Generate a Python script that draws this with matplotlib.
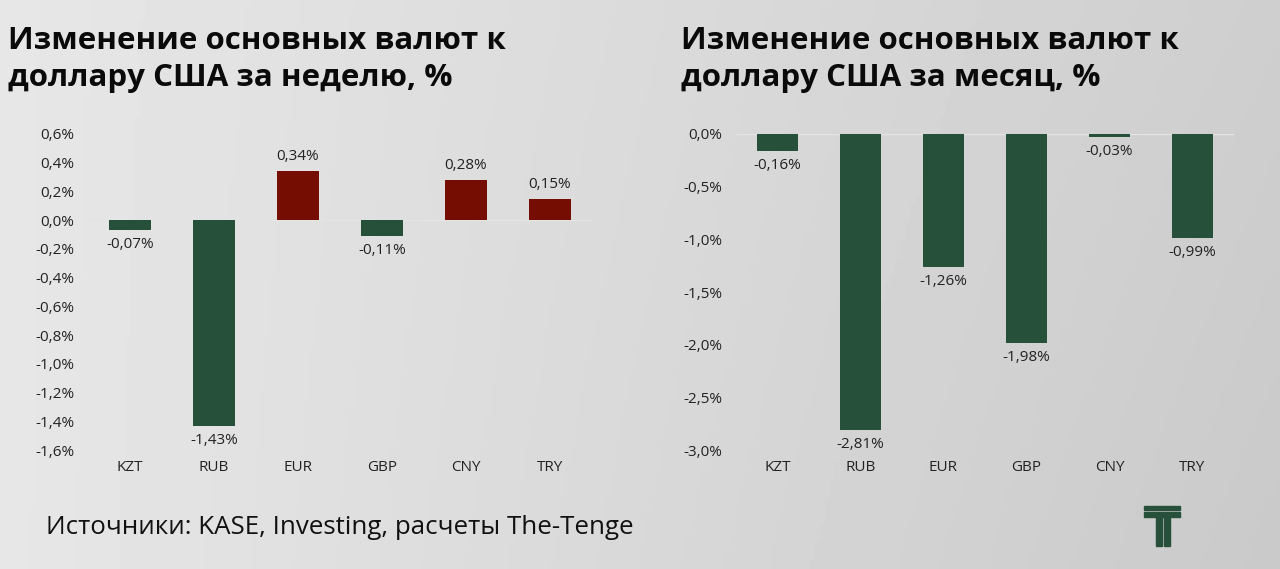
import numpy as np
import matplotlib.pyplot as plt
from matplotlib.patches import Rectangle

plt.rcParams['font.family'] = ['Open Sans', 'DejaVu Sans']

currencies = ['KZT', 'RUB', 'EUR', 'GBP', 'CNY', 'TRY']
week_change = [-0.07, -1.43, 0.34, -0.11, 0.28, 0.15]
month_change = [-0.16, -2.81, -1.26, -1.98, -0.03, -0.99]
week_ticks = [0.6, 0.4, 0.2, 0.0, -0.2, -0.4, -0.6, -0.8, -1.0, -1.2, -1.4, -1.6]
month_ticks = [0.0, -0.5, -1.0, -1.5, -2.0, -2.5, -3.0]

green = '#27503a'
red = '#760d03'


def fmt(v, nd):
    return f'{v:.{nd}f}%'.replace('.', ',')


fig = plt.figure(figsize=(12.8, 5.69), dpi=100)

# фон с градиентом
bg = fig.add_axes([0, 0, 1, 1], zorder=-10)
xx = np.linspace(0, 1, 256)
yy = np.linspace(0, 1, 64)
X, Y = np.meshgrid(xx, yy)
Z = 0.905 - 0.115 * X + 0.02 * X * (1 - Y)
bg.imshow(Z, cmap='gray', vmin=0, vmax=1, aspect='auto', extent=[0, 1, 0, 1])
bg.axis('off')


def draw(rect, vals, ticks, ylim, title, title_x):
    ax = fig.add_axes(rect)
    ax.patch.set_alpha(0)
    x = np.arange(len(vals))
    colors = [red if v > 0 else green for v in vals]
    ax.axhline(0, color='#e4e4e4', lw=1, zorder=1)
    ax.bar(x, vals, width=0.5, color=colors, zorder=2)
    for xi, v in zip(x, vals):
        if v >= 0:
            ax.annotate(fmt(v, 2), (xi, v), xytext=(0, 5), textcoords='offset points',
                        ha='center', va='bottom', fontsize=11, color='#222222')
        else:
            ax.annotate(fmt(v, 2), (xi, v), xytext=(0, -5), textcoords='offset points',
                        ha='center', va='top', fontsize=11, color='#222222')
    ax.set_xlim(-0.5, len(vals) - 0.5)
    ax.set_ylim(*ylim)
    ax.set_yticks(ticks)
    ax.set_yticklabels([fmt(t, 1) for t in ticks], fontsize=11, color='#222222')
    ax.set_xticks(x)
    ax.set_xticklabels(currencies, fontsize=11, color='#222222')
    ax.tick_params(length=0, axis='y', pad=10)
    ax.tick_params(length=0, axis='x', pad=7)
    for s in ax.spines.values():
        s.set_visible(False)
    fig.text(title_x, 0.955, title, fontsize=22.5, fontweight='bold', ha='left', va='top',
             color='#0a0a0a', linespacing=1.3)
    return ax


draw([0.06875, 0.2091, 0.39375, 0.5554], week_change, week_ticks, (-1.6, 0.6),
     'Изменение основных валют к\nдоллару США за неделю, %', 0.006)
draw([0.575, 0.2091, 0.389, 0.5554], month_change, month_ticks, (-3.0, 0.0),
     'Изменение основных валют к\nдоллару США за месяц, %', 0.532)

fig.text(0.036, 0.073, 'Источники: KASE, Investing, расчеты The-Tenge', fontsize=18.6,
         ha='left', va='center', color='#111111')

# логотип
W, H = 1280, 569
def box(x0, y0, x1, y1):
    fig.patches.append(Rectangle((x0 / W, 1 - y1 / H), (x1 - x0) / W, (y1 - y0) / H,
                                 transform=fig.transFigure, color=green, zorder=5))
box(1144, 506, 1180, 510)
box(1144, 512, 1180, 517)
box(1156, 517, 1162, 546)
box(1164, 517, 1170, 546)

fig.savefig('out.png', dpi=100)
